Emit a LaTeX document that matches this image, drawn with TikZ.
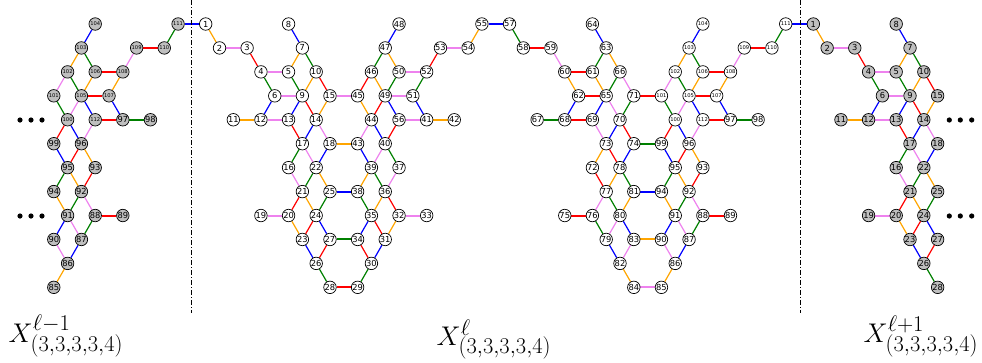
\documentclass[tikz,border=0pt]{standalone}
\usepackage{fontspec}
\usepackage{graphicx}
\newfontfamily\nfont{DejaVu Sans}
\usetikzlibrary{backgrounds}
\definecolor{cO}{RGB}{255,165,0}
\definecolor{cP}{RGB}{238,130,238}
\definecolor{cR}{RGB}{255,0,0}
\definecolor{cG}{RGB}{0,128,0}
\definecolor{cB}{RGB}{0,0,255}
\tikzset{
  vtx/.style={circle, draw=black, line width=0.7pt, minimum size=12.5pt, inner sep=0pt,
    font=\nfont\fontsize{8.3pt}{8.3pt}\selectfont},
  vsm/.style={vtx, font=\nfont\fontsize{5.2pt}{5.2pt}\selectfont},
  wh/.style={fill=white},
  gr/.style={fill=gray!50},
  edge/.style={line width=1.2pt},
  hedge/.style={line width=2pt},
  divider/.style={line width=1pt, dash pattern=on 5pt off 2pt on 1pt off 2pt},
  biglabel/.style={anchor=base west, inner sep=0pt},
}
\newcommand\biglab[1]{\scalebox{1.085}{\Huge $#1$}}
\def\nodesA{1/0/0,2/1/1,3/3/1,4/4/2,5/6/2,6/5/3,7/7/1,8/6/0,9/7/3,10/8/2,11/2/4,12/4/4,13/6/4,14/8/4,15/9/3,16/6/6,17/7/5,18/9/5,19/4/8,20/6/8,21/7/7,22/8/6,23/7/9,24/8/8,25/9/7,26/8/10,27/9/9,28/9/11}
\def\nodesM{29/11/11,30/12/10,31/13/9,32/14/8,33/16/8,34/11/9,35/12/8,36/13/7,37/14/6,38/11/7,39/12/6,40/13/5,41/16/4,42/18/4,43/11/5,44/12/4,45/11/3,46/12/2,47/13/1,48/14/0,49/13/3,50/14/2,51/15/3,52/16/2,53/17/1,54/19/1,55/20/0,56/14/4,57/22/0,58/23/1,59/25/1,60/26/2,61/28/2,62/27/3,63/29/1,64/28/0,65/29/3,66/30/2,67/24/4,68/26/4,69/28/4,70/30/4,71/31/3,72/28/6,73/29/5,74/31/5,75/26/8,76/28/8,77/29/7,78/30/6,79/29/9,80/30/8,81/31/7,82/30/10,83/31/9,84/31/11}
\def\nodesB{85/33/11,86/34/10,87/35/9,88/36/8,89/38/8,90/33/9,91/34/8,92/35/7,93/36/6,94/33/7,95/34/6,96/35/5,97/38/4,98/40/4,99/33/5}
\def\nodesS{100/34/4,101/33/3,102/34/2,103/35/1,104/36/0,105/35/3,106/36/2,107/37/3,108/38/2,109/39/1,110/41/1,111/42/0,112/36/4}
% diagonal edges
\def\edgesA{1/2/O,3/4/R,4/6/G,5/7/O,5/9/G,7/8/B,7/10/G,10/9/O,10/15/R,6/12/B,9/13/B,9/14/R,15/14/O,13/17/R,14/17/B,14/18/P,17/16/G,17/22/P,18/22/B,16/21/P,22/21/G,22/25/O,21/20/R,21/24/O,25/24/G,20/23/O,24/23/R,24/27/B,23/26/B,27/26/R,26/28/G}
\def\edgesB{99/95/B,96/95/R,96/93/O,95/94/G,95/92/O,93/92/R,94/91/O,92/91/G,92/88/P,91/90/B,91/87/P,88/87/G,90/86/P,87/86/B,86/85/O,101/102/P,101/100/G,102/103/O,103/104/B,103/106/G,102/105/G,106/105/O,108/107/O,108/109/P,110/111/G,105/100/P,105/112/B,107/97/B,100/99/R,100/96/B,112/96/P}
\def\edgesC{29/30/G,34/30/R,31/30/B,35/34/B,35/31/R,32/31/O,36/32/R,36/35/O,38/35/G,39/38/O,39/36/G,37/36/P,43/39/B,40/39/P,40/37/G,44/43/P,44/40/B,56/40/R,45/46/R,45/44/O,46/47/G,47/48/B,47/50/O,46/49/O,50/49/G,52/53/R,52/51/G,49/44/R,49/56/B,51/41/B,54/55/O,57/58/G,59/60/P,60/62/O,61/63/G,63/64/B,63/66/O,61/65/O,66/65/G,66/71/P,62/68/B,65/69/B,65/70/P,71/70/G,69/73/P,70/73/B,70/74/R,73/72/O,73/78/R,74/78/B,72/77/R,78/77/O,78/81/G,77/76/P,77/80/G,81/80/O,76/79/G,80/79/P,80/83/B,79/82/B,83/82/P,82/84/O}
% horizontal edges
\def\hedgesA{2/3/P,4/5/P,6/9/P,11/12/O,12/13/P,19/20/P}
\def\hedgesB{88/89/R,106/108/R,105/107/R,109/110/R,112/97/R,97/98/G}
\def\hedgesC{15/45/P,18/43/O,25/38/B,27/34/G,28/29/R,32/33/P,50/52/P,53/54/P,49/51/P,56/41/P,41/42/O,55/57/B,58/59/R,60/61/R,62/65/R,71/101/R,67/68/G,68/69/R,74/99/G,81/94/B,75/76/R,83/90/O,84/85/P}
\begin{document}
\begin{tikzpicture}
\useasboundingbox (0pt,0pt) rectangle (982pt,-362pt);
\begin{scope}[shift={(205.7pt,-24pt)}, x=13.81pt, y=-23.94pt]
  % middle copy
  \foreach \n/\c/\r in \nodesA {\node[vtx,wh] (m\n) at (\c,\r) {\n};}
  \foreach \n/\c/\r in \nodesM {\node[vtx,wh] (m\n) at (\c,\r) {\n};}
  \foreach \n/\c/\r in \nodesB {\node[vtx,wh] (m\n) at (\c,\r) {\n};}
  \foreach \n/\c/\r in \nodesS {\node[vsm,wh] (m\n) at (\c,\r) {\n};}
  % left copy
  \foreach \n/\c/\r in \nodesB {\node[vtx,gr] (l\n) at (\c-44,\r) {\n};}
  \foreach \n/\c/\r in \nodesS {\node[vsm,gr] (l\n) at (\c-44,\r) {\n};}
  % right copy
  \foreach \n/\c/\r in \nodesA {\node[vtx,gr] (r\n) at (\c+44,\r) {\n};}
  \begin{scope}[on background layer]
    \foreach \a/\b/\k in \edgesA {
      \draw[edge, color=c\k] (m\a) -- (m\b);
      \draw[edge, color=c\k] (r\a) -- (r\b);
    }
    \foreach \a/\b/\k in \hedgesA {
      \draw[hedge, color=c\k] (m\a) -- (m\b);
      \draw[hedge, color=c\k] (r\a) -- (r\b);
    }
    \foreach \a/\b/\k in \edgesB {
      \draw[edge, color=c\k] (m\a) -- (m\b);
      \draw[edge, color=c\k] (l\a) -- (l\b);
    }
    \foreach \a/\b/\k in \hedgesB {
      \draw[hedge, color=c\k] (m\a) -- (m\b);
      \draw[hedge, color=c\k] (l\a) -- (l\b);
    }
    \foreach \a/\b/\k in \edgesC {
      \draw[edge, color=c\k] (m\a) -- (m\b);
    }
    \foreach \a/\b/\k in \hedgesC {
      \draw[hedge, color=c\k] (m\a) -- (m\b);
    }
    \draw[hedge, color=cB] (l111) -- (m1);
    \draw[hedge, color=cB] (m111) -- (r1);
  \end{scope}
\end{scope}
% dividers
\coordinate (d1t) at (191.7pt,0pt);
\coordinate (d1b) at (191.7pt,-313pt);
\coordinate (d2t) at (800.3pt,0pt);
\coordinate (d2b) at (800.3pt,-313pt);
\draw[divider] (d1t) -- (d1b);
\draw[divider] (d2t) -- (d2b);
% ellipsis dots
\foreach \x in {20,31,42,949.3,960.3,971.7}{
  \foreach \y in {120,216}{
    \fill (\x pt,-\y pt) circle (2.6pt);
  }
}
% labels
\node[biglabel] (labL) at (8.5pt,-342pt) {\biglab{X^{\ell-1}_{(3,3,3,3,4)}}};
\node[biglabel] (labM) at (436.5pt,-345pt) {\biglab{X^{\ell}_{(3,3,3,3,4)}}};
\node[biglabel] (labR) at (863.5pt,-342pt) {\biglab{X^{\ell+1}_{(3,3,3,3,4)}}};
\end{tikzpicture}
\end{document}
